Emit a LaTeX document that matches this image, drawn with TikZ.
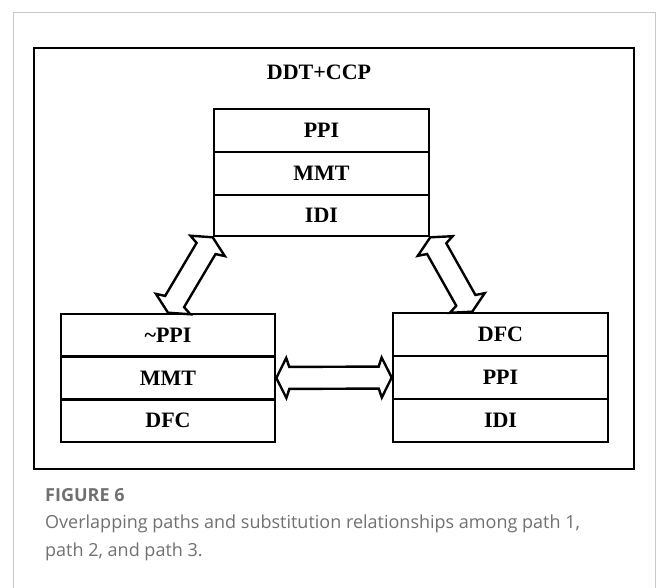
\documentclass[tikz,border=0pt]{standalone}
\usepackage{fontspec}
\setmainfont{Liberation Serif}
\newfontfamily\capfont{Open Sans}
\usetikzlibrary{calc}
\definecolor{cardgray}{HTML}{C8C8C8}
\definecolor{captext}{HTML}{707070}
\tikzset{
  rowbox/.style={draw, line width=2.6pt, inner sep=0pt, minimum height=43pt,
    font=\fontsize{22}{22}\selectfont\bfseries},
  blockarrow/.style={draw, line width=2.4pt, line join=miter, miter limit=20},
  captionline/.style={anchor=base west, inner sep=0pt, text=captext},
}
\newcommand\blockarr[2]{%
  \draw[blockarrow] (#1)
    -- ($(#1)!10pt!(#2)!20pt!90:(#2)$)
    -- ($(#1)!13pt!(#2)!11pt!90:(#2)$)
    -- ($(#2)!13pt!(#1)!11pt!-90:(#1)$)
    -- ($(#2)!10pt!(#1)!20pt!-90:(#1)$)
    -- (#2)
    -- ($(#2)!10pt!(#1)!20pt!90:(#1)$)
    -- ($(#2)!13pt!(#1)!11pt!90:(#1)$)
    -- ($(#1)!13pt!(#2)!11pt!-90:(#2)$)
    -- ($(#1)!10pt!(#2)!20pt!-90:(#2)$)
    -- cycle;}
\begin{document}
\begin{tikzpicture}[x=1pt, y=-1pt]
  \useasboundingbox (0,0) rectangle (656,588);
  % card
  \draw[cardgray, line width=1pt] (13,588) -- (13,12.5) -- (655,12.5) -- (655,588);
  % outer frame
  \draw[line width=2.7pt] (34,48) rectangle (634,469);
  \node[font=\fontsize{22}{22}\selectfont\bfseries] (title) at (319,72) {DDT+CCP};
  % top box
  \node[rowbox, minimum width=215pt] (t1) at (321.5,130.5) {PPI};
  \node[rowbox, minimum width=215pt] (t2) at (321.5,173.5) {MMT};
  \node[rowbox, minimum width=215pt, minimum height=41pt] (t3) at (321.5,215.5) {IDI};
  % left box
  \node[rowbox, minimum width=214pt] (l1) at (168,335.5) {\textasciitilde PPI};
  \node[rowbox, minimum width=214pt] (l2) at (168,378) {MMT};
  \node[rowbox, minimum width=214pt] (l3) at (168,420.5) {DFC};
  % right box
  \node[rowbox, minimum width=215pt] (r1) at (500.5,334.5) {DFC};
  \node[rowbox, minimum width=215pt] (r2) at (500.5,377.5) {PPI};
  \node[rowbox, minimum width=215pt] (r3) at (500.5,420.5) {IDI};
  \coordinate (rtip) at ($(r1.north west)!0.37!(r1.north east)$);
  % arrows
  \blockarr{t3.south west}{l1.north}
  \blockarr{t3.south east}{rtip}
  \blockarr{l2.east}{r2.west}
  % caption
  \node[captionline, font=\capfont\fontsize{18}{21}\selectfont\bfseries] (fig) at (45,501) {FIGURE 6};
  \node[captionline, font=\capfont\fontsize{18}{21}\selectfont] (cap1) at (45,528) {Overlapping paths and substitution relationships among path 1,};
  \node[captionline, font=\capfont\fontsize{18}{21}\selectfont] (cap2) at (45,556) {path 2, and path 3.};
\end{tikzpicture}
\end{document}
